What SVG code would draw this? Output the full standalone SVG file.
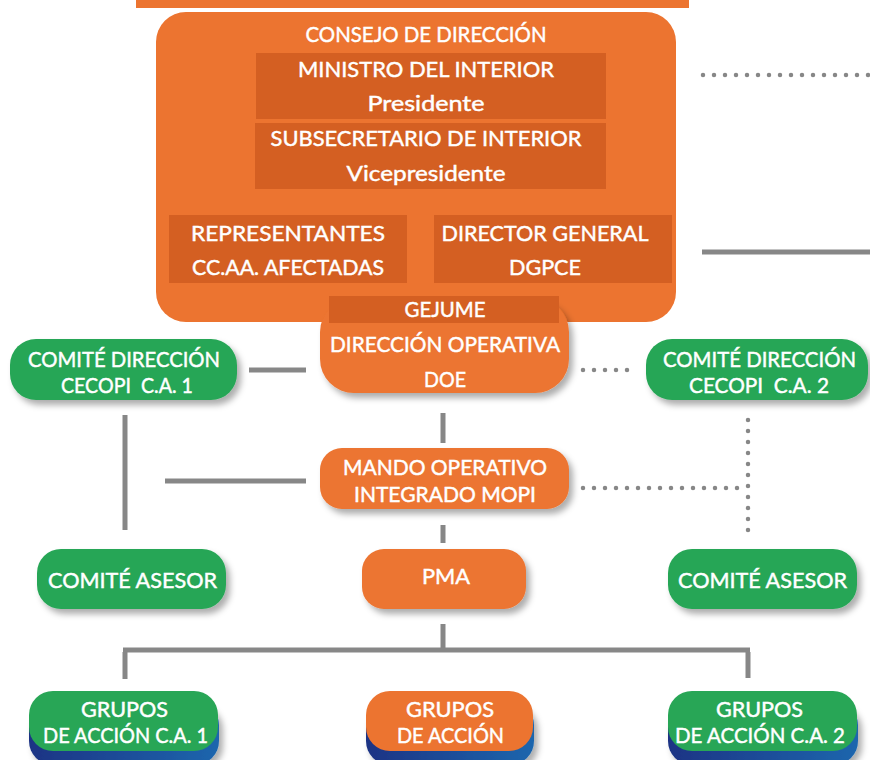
<svg xmlns="http://www.w3.org/2000/svg" width="870" height="760" viewBox="0 0 870 760">
<defs>
<filter id="sh" x="-20%" y="-30%" width="150%" height="180%">
<feDropShadow dx="4" dy="5" stdDeviation="3" flood-color="#000" flood-opacity="0.32"/>
</filter>
<linearGradient id="blue" x1="0" y1="0" x2="1" y2="0">
<stop offset="0" stop-color="#1b3384"/>
<stop offset="1" stop-color="#1d66ad"/>
</linearGradient>
<style>
.or{fill:#EC7430}
.dk{fill:#D45F22}
.gr{fill:#28A656}
.bl{fill:url(#blue)}
text{font-family:Lato,"Open Sans","Liberation Sans",sans-serif;fill:#fff;stroke:#fff;stroke-width:0.45;text-anchor:middle;font-size:21px;white-space:pre}
.big{font-size:22px}
.ln{stroke:#878787;stroke-width:5;fill:none}
.dt{stroke:#878787;stroke-width:4.5;fill:none;stroke-linecap:round;stroke-dasharray:0 11}
</style>
</defs>

<rect class="or" x="136" y="0" width="553" height="8"/>

<g id="connectors">
<line class="ln" x1="249" y1="370" x2="306" y2="370"/>
<line class="ln" x1="125" y1="415" x2="125" y2="530"/>
<line class="ln" x1="165" y1="481" x2="306" y2="481"/>
<line class="ln" x1="443" y1="413" x2="443" y2="443"/>
<line class="ln" x1="443" y1="525" x2="443" y2="543"/>
<line class="ln" x1="443" y1="624" x2="443" y2="648"/>
<line class="ln" x1="123" y1="650" x2="750" y2="650"/>
<line class="ln" x1="125" y1="652" x2="125" y2="679"/>
<line class="ln" x1="748" y1="652" x2="748" y2="678"/>
<line class="ln" x1="702" y1="252" x2="870" y2="252"/>
<line class="dt" x1="703" y1="75" x2="875" y2="75"/>
<line class="dt" x1="583" y1="370" x2="628" y2="370"/>
<line class="dt" x1="583" y1="488" x2="748" y2="488"/>
<line class="dt" x1="748" y1="420" x2="748" y2="531"/>
</g>

<g id="consejo">
<rect class="or" x="156" y="12" width="520" height="310" rx="30"/>
<text class="big" x="426" y="42" textLength="241" lengthAdjust="spacingAndGlyphs">CONSEJO DE DIRECCIÓN</text>
</g>
<g id="ministro">
<rect class="dk" x="256" y="53" width="350" height="66"/>
<text class="big" x="426" y="77" textLength="256" lengthAdjust="spacingAndGlyphs">MINISTRO DEL INTERIOR</text>
<text class="big" x="426" y="111" textLength="117" lengthAdjust="spacingAndGlyphs">Presidente</text>
</g>
<g id="subsecretario">
<rect class="dk" x="255" y="123" width="351" height="66"/>
<text class="big" x="426" y="146" textLength="311" lengthAdjust="spacingAndGlyphs">SUBSECRETARIO DE INTERIOR</text>
<text class="big" x="426" y="181" textLength="159" lengthAdjust="spacingAndGlyphs">Vicepresidente</text>
</g>
<g id="representantes">
<rect class="dk" x="169" y="215" width="238" height="68"/>
<text class="big" x="288" y="241" textLength="194" lengthAdjust="spacingAndGlyphs">REPRESENTANTES</text>
<text class="big" x="288" y="275" textLength="192" lengthAdjust="spacingAndGlyphs">CC.AA. AFECTADAS</text>
</g>
<g id="director">
<rect class="dk" x="434" y="215" width="238" height="68"/>
<text class="big" x="545" y="241" textLength="207" lengthAdjust="spacingAndGlyphs">DIRECTOR GENERAL</text>
<text class="big" x="545" y="275" textLength="72" lengthAdjust="spacingAndGlyphs">DGPCE</text>
</g>

<g id="doe">
<rect class="or" x="320" y="298" width="249" height="95" rx="34" filter="url(#sh)"/>
<text x="445" y="352" textLength="230" lengthAdjust="spacingAndGlyphs">DIRECCIÓN OPERATIVA</text>
<text x="445" y="387" textLength="42" lengthAdjust="spacingAndGlyphs">DOE</text>
</g>
<g id="gejume">
<rect class="dk" x="329" y="296" width="230" height="27"/>
<text x="445" y="317" textLength="81" lengthAdjust="spacingAndGlyphs">GEJUME</text>
</g>

<g id="mopi">
<rect class="or" x="320" y="448" width="249" height="61" rx="22" filter="url(#sh)"/>
<text x="445" y="475" textLength="204" lengthAdjust="spacingAndGlyphs">MANDO OPERATIVO</text>
<text x="445" y="502" textLength="182" lengthAdjust="spacingAndGlyphs">INTEGRADO MOPI</text>
</g>

<g id="pma">
<rect class="or" x="362" y="549" width="164" height="60" rx="22" filter="url(#sh)"/>
<text x="446" y="584" textLength="48" lengthAdjust="spacingAndGlyphs">PMA</text>
</g>

<g id="cecopi1">
<rect class="gr" x="10" y="339" width="227" height="61" rx="26" filter="url(#sh)"/>
<text x="124" y="367" textLength="192" lengthAdjust="spacingAndGlyphs">COMITÉ DIRECCIÓN</text>
<text x="127" y="393" textLength="132" lengthAdjust="spacingAndGlyphs" xml:space="preserve">CECOPI  C.A. 1</text>
</g>
<g id="cecopi2">
<rect class="gr" x="646" y="339" width="222" height="61" rx="26" filter="url(#sh)"/>
<text x="759.5" y="367" textLength="193" lengthAdjust="spacingAndGlyphs">COMITÉ DIRECCIÓN</text>
<text x="759" y="393" textLength="140" lengthAdjust="spacingAndGlyphs" xml:space="preserve">CECOPI  C.A. 2</text>
</g>

<g id="asesor1">
<rect class="gr" x="37" y="549" width="189" height="60" rx="24" filter="url(#sh)"/>
<text x="132.5" y="588" textLength="169" lengthAdjust="spacingAndGlyphs">COMITÉ ASESOR</text>
</g>
<g id="asesor2">
<rect class="gr" x="668" y="549" width="189" height="60" rx="24" filter="url(#sh)"/>
<text x="762.5" y="588" textLength="169" lengthAdjust="spacingAndGlyphs">COMITÉ ASESOR</text>
</g>

<g id="grupos1">
<rect class="bl" x="29" y="701" width="190" height="64" rx="24" filter="url(#sh)"/>
<rect class="gr" x="29" y="691" width="189" height="60" rx="24"/>
<text x="124.5" y="717" textLength="87" lengthAdjust="spacingAndGlyphs">GRUPOS</text>
<text x="125.5" y="743" textLength="165" lengthAdjust="spacingAndGlyphs">DE ACCIÓN C.A. 1</text>
</g>
<g id="grupos">
<rect class="bl" x="366" y="701" width="168" height="64" rx="24" filter="url(#sh)"/>
<rect class="or" x="366" y="691" width="167" height="60" rx="24"/>
<text x="450" y="717" textLength="88" lengthAdjust="spacingAndGlyphs">GRUPOS</text>
<text x="450.5" y="743" textLength="107" lengthAdjust="spacingAndGlyphs">DE ACCIÓN</text>
</g>
<g id="grupos2">
<rect class="bl" x="668" y="701" width="190" height="64" rx="24" filter="url(#sh)"/>
<rect class="gr" x="668" y="691" width="189" height="60" rx="24"/>
<text x="759.5" y="717" textLength="87" lengthAdjust="spacingAndGlyphs">GRUPOS</text>
<text x="760" y="743" textLength="170" lengthAdjust="spacingAndGlyphs">DE ACCIÓN C.A. 2</text>
</g>
</svg>
